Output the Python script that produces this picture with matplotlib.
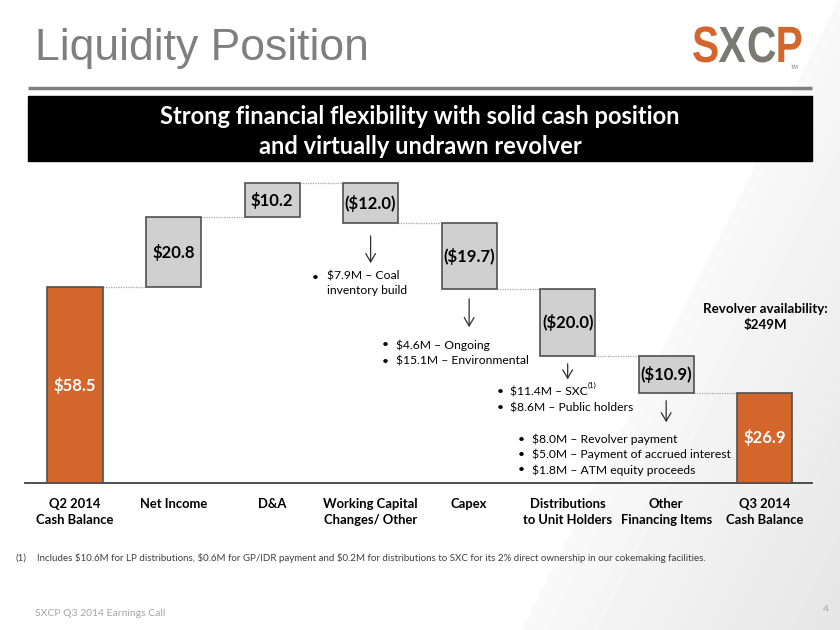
import numpy as np
import matplotlib
matplotlib.use("Agg")
import matplotlib.pyplot as plt
from matplotlib.patches import Rectangle, Polygon, PathPatch
from matplotlib.textpath import TextPath
from matplotlib.font_manager import FontProperties
from matplotlib.transforms import Affine2D

plt.rcParams['text.parse_math'] = False
plt.rcParams['font.family'] = ['Lato', 'DejaVu Sans']

# data
categories = ["Q2 2014\nCash Balance", "Net Income", "D&A", "Working Capital\nChanges/ Other",
              "Capex", "Distributions\nto Unit Holders", "Other\nFinancing Items", "Q3 2014\nCash Balance"]
start_balance = 58.5
changes = [20.8, 10.2, -12.0, -19.7, -20.0, -10.9]
end_balance = 26.9

wc_notes = ["$7.9M \u2013 Coal\ninventory build"]
capex_notes = ["$4.6M \u2013 Ongoing", "$15.1M \u2013 Environmental"]
dist_notes = ["$11.4M \u2013 SXC", "$8.6M \u2013 Public holders"]
other_notes = ["$8.0M \u2013 Revolver payment", "$5.0M \u2013 Payment of accrued interest",
               "$1.8M \u2013 ATM equity proceeds"]
revolver_text = ["Revolver availability:", "$249M"]
footnote = ("Includes $10.6M for LP distributions, $0.6M for GP/IDR payment and $0.2M for "
            "distributions to SXC for its 2% direct ownership in our cokemaking facilities.")

orange = '#D4662B'
grey_box = '#D0D0D0'

fig = plt.figure(figsize=(8.4, 6.3), dpi=100)

# slide background (pixel coords)
bg = fig.add_axes([0, 0, 1, 1], zorder=-10)
bg.set_xlim(0, 840)
bg.set_ylim(630, 0)
bg.axis('off')
xx, yy = np.meshgrid(np.arange(840), np.arange(630))
dist = ((xx - 838) * 630 + (yy - 0) * 316) / np.hypot(630, 316)
shade = 0.975 - 0.07 * np.clip(dist / 260, 0, 1)
im = bg.imshow(shade, cmap='gray', vmin=0, vmax=1, extent=[0, 840, 630, 0], aspect='auto')
clip = Polygon([(838, 0), (840, 0), (840, 630), (522, 630)], transform=bg.transData)
im.set_clip_path(clip)

bg.text(35, 60, "Liquidity Position", fontsize=32, color='#7F7F7F', family='Liberation Sans',
        va='baseline', ha='left')

# logo (condensed bold letters)
logo_prop = FontProperties(family='Liberation Sans', weight='bold')
logo_cols = [orange, '#7A7A72', '#7A7A72', orange]
lx = 692
for ch, c in zip("SXCP", logo_cols):
    tp = TextPath((0, 0), ch, size=51, prop=logo_prop)
    tr = Affine2D().scale(0.8, -1).translate(lx, 62) + bg.transData
    bg.add_patch(PathPatch(tp, facecolor=c, edgecolor='none', transform=tr))
    lx += tp.get_extents().width * 0.8 + 2
bg.text(lx - 10, 65, "TM", fontsize=4, color='#7F7F7F', family='Liberation Sans', va='top', ha='left')

bg.hlines(88, 28, 812, color='#808080', lw=2.5)
bg.add_patch(Rectangle((28, 96), 784, 65, color='black'))
bg.text(420, 116, "Strong financial flexibility with solid cash position", color='white',
        fontsize=17, fontweight='bold', ha='center', va='center')
bg.text(420, 147, "and virtually undrawn revolver", color='white',
        fontsize=17, fontweight='bold', ha='center', va='center')

bg.text(15, 558, "(1)", fontsize=7, color='#404040', va='center')
bg.text(37, 558, footnote, fontsize=7, color='#404040', va='center')
bg.text(35, 613, "SXCP Q3 2014 Earnings Call", fontsize=7.5, color='#A6A6A6', va='center')
bg.text(829, 610, "4", fontsize=7.5, color='#A6A6A6', va='center', ha='right')

# waterfall
ax = fig.add_axes([25 / 840, 147 / 630, 787 / 840, 335 / 630])
ax.patch.set_alpha(0)

levels = [start_balance]
for c in changes:
    levels.append(levels[-1] + c)
bottoms = [0]
heights = [start_balance]
for i, c in enumerate(changes):
    bottoms.append(min(levels[i], levels[i + 1]))
    heights.append(abs(c))
bottoms.append(0)
heights.append(end_balance)
colors = [orange] + [grey_box] * len(changes) + [orange]
x = np.arange(len(categories))
w = 0.56
ax.bar(x, heights, bottom=bottoms, width=w, color=colors, edgecolor='#505050', linewidth=1.2, zorder=3)

# connectors
for i in range(len(categories) - 1):
    ax.hlines(levels[i] if i < len(levels) else end_balance, x[i] + w / 2, x[i + 1] - w / 2,
              colors='#A6A6A6', linestyles=(0, (1, 1)), lw=0.9)

values = [start_balance] + changes + [end_balance]
for i, v in enumerate(values):
    lab = f"${v:.1f}" if v >= 0 else f"(${-v:.1f})"
    col = 'white' if colors[i] == orange else 'black'
    ax.text(x[i], bottoms[i] + heights[i] / 2, lab, ha='center', va='center',
            fontsize=12, fontweight='bold', color=col, zorder=4)

arrow_kw = dict(arrowstyle='->,head_length=0.6,head_width=0.35', lw=0.9, color='#303030')
ax.annotate("", xy=(3, 64.8), xytext=(3, 74.6), arrowprops=arrow_kw)
ax.annotate("", xy=(4, 45.7), xytext=(4, 55.8), arrowprops=arrow_kw)
ax.annotate("", xy=(5, 30.1), xytext=(5, 36.4), arrowprops=arrow_kw)
ax.annotate("", xy=(6, 17.3), xytext=(6, 25.4), arrowprops=arrow_kw)

note_fs = 8.7
ax.text(2.406, 61.2, "\u2022", fontsize=note_fs, va='center')
ax.text(2.558, 61.2 + 2.3, wc_notes[0], fontsize=note_fs, va='top', linespacing=1.4)
for k, n in enumerate(capex_notes):
    ax.text(3.117, 41.2 - 4.8 * k, "\u2022", fontsize=note_fs, va='center')
    ax.text(3.259, 41.2 - 4.8 * k, n, fontsize=note_fs, va='center')
for k, n in enumerate(dist_notes):
    ax.text(4.284, 27.2 - 4.8 * k, "\u2022", fontsize=note_fs, va='center')
    t = ax.text(4.416, 27.2 - 4.8 * k, n, fontsize=note_fs, va='center')
    if k == 0:
        ax.annotate("(1)", xy=(1, 0.75), xycoords=t, fontsize=5.5, va='bottom', ha='left')
for k, n in enumerate(other_notes):
    ax.text(4.497, 13.1 - 4.6 * k, "\u2022", fontsize=note_fs, va='center')
    ax.text(4.640, 13.1 - 4.6 * k, n, fontsize=note_fs, va='center')

ax.text(7.005, 51.9, revolver_text[0], fontsize=9.6, fontweight='bold', ha='center', va='center')
ax.text(7.005, 47.2, revolver_text[1], fontsize=9.6, fontweight='bold', ha='center', va='center')

ax.set_xlim(-0.508, 7.48)
ax.set_ylim(0, 100)
ax.set_xticks(x, categories, fontweight='bold', fontsize=9.4)
for lbl in ax.get_xticklabels():
    lbl.set_linespacing(1.4)
ax.tick_params(axis='x', length=0, pad=11)
ax.set_yticks([])
for s in ['top', 'right', 'left']:
    ax.spines[s].set_visible(False)
ax.spines['bottom'].set_color('#404040')
ax.spines['bottom'].set_linewidth(1.3)

fig.savefig("out.png", dpi=100)
